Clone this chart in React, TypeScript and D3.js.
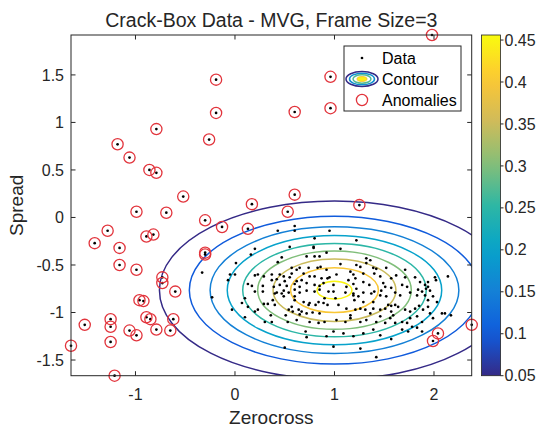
import * as d3 from 'd3';

// axis ticks
const xTicks = [-1, 0, 1, 2];
const yTicks = [-1.5, -1, -0.5, 0, 0.5, 1, 1.5];

// contour levels of the fitted MVG and its parameters
const contourLevels = [0.05, 0.1, 0.15, 0.2, 0.25, 0.3, 0.35, 0.4, 0.45];
const mvgMean = [1.0, -0.765];
const mvgSigma = [0.835, 0.445];
const mvgPeak = 0.46;
const colorRange = [0.05, 0.456];
const colorbarTicks = [0.05, 0.1, 0.15, 0.2, 0.25, 0.3, 0.35, 0.4, 0.45];

// parula colormap anchors
const parula = ['#352A87', '#0F5CDD', '#1481D6', '#06A4CA', '#2EB7A4', '#87BF77', '#D1BB59', '#FEC832', '#F9FB0E'];

// normal frames (zerocross, spread)
const dataPoints: [number, number][] = [
  [-0.33, -0.58], [-0.23, -0.84], [-0.03, -0.97], [0.0, -0.6], [0.01, -0.48], [-0.07, -0.66],
  [0.43, -0.14], [0.6, -0.09], [0.6, -0.14], [0.8, -0.22], [0.2, -0.33], [0.16, -0.39], [0.55, -0.31],
  [0.79, -0.31], [0.79, -0.32], [0.47, -0.42], [0.72, -0.41], [0.8, -0.41], [0.85, -0.41], [0.92, -0.37],
  [0.43, -0.47], [-0.05, -0.6], [0.2, -0.61], [0.23, -0.6], [0.29, -0.62], [0.37, -0.6], [0.45, -0.6],
  [0.49, -0.62], [0.57, -0.53], [0.62, -0.55], [0.65, -0.53], [0.74, -0.53], [0.83, -0.53], [0.86, -0.52],
  [0.92, -0.55], [0.57, -0.59], [0.55, -0.63], [0.69, -0.59], [0.75, -0.62], [0.8, -0.62], [0.37, -0.66],
  [0.42, -0.65], [0.5, -0.67], [0.62, -0.67], [0.67, -0.66], [0.87, -0.64], [0.93, -0.64], [0.13, -0.7],
  [0.17, -0.72], [0.28, -0.72], [0.39, -0.73], [0.45, -0.71], [0.52, -0.72], [0.6, -0.7], [0.65, -0.73],
  [0.72, -0.69], [0.8, -0.71], [0.85, -0.72], [0.89, -0.69], [0.2, -0.78], [0.28, -0.78], [0.42, -0.79],
  [0.49, -0.77], [0.54, -0.79], [0.6, -0.76], [0.65, -0.79], [0.72, -0.77], [0.8, -0.78], [0.85, -0.76],
  [0.94, -0.78],
  [0.95, -0.14], [1.22, -0.24], [1.06, -0.33], [1.32, -0.43], [1.36, -0.45], [1.06, -0.49], [1.22, -0.5],
  [1.26, -0.52], [1.32, -0.48], [1.39, -0.53], [1.42, -0.54], [1.52, -0.53], [1.71, -0.55], [1.02, -0.6],
  [1.16, -0.57], [1.19, -0.6], [1.29, -0.59], [1.4, -0.59], [0.95, -0.63], [1.14, -0.66], [1.21, -0.64],
  [1.29, -0.68], [1.46, -0.62], [1.57, -0.64], [1.62, -0.61], [1.71, -0.63], [1.81, -0.63], [1.86, -0.68],
  [1.94, -0.68], [2.01, -0.63], [2.02, -0.66], [2.14, -0.62], [0.99, -0.71], [1.12, -0.73], [1.19, -0.7],
  [1.22, -0.75], [1.35, -0.71], [1.49, -0.69], [1.51, -0.73], [1.57, -0.74], [1.68, -0.71], [1.73, -0.73],
  [1.84, -0.76], [1.91, -0.71], [1.92, -0.75], [1.94, -0.73], [1.96, -0.77], [0.99, -0.78], [1.11, -0.79],
  [1.19, -0.8], [1.29, -0.79], [1.4, -0.78], [1.47, -0.77], [1.61, -0.79], [1.76, -0.79], [1.88, -0.78],
  [0.07, -0.9], [0.1, -0.85], [0.13, -0.94], [0.1, -1.05], [0.2, -0.99], [0.23, -0.97], [0.29, -0.91],
  [0.33, -0.91], [0.36, -1.03], [0.3, -1.1], [0.37, -1.1], [0.38, -0.87], [0.4, -0.92], [0.4, -0.8],
  [0.47, -0.8], [0.49, -0.83], [0.51, -1.03], [0.54, -0.97], [0.57, -0.94], [0.58, -0.99], [0.6, -0.83],
  [0.6, -0.87], [0.64, -0.97], [0.65, -1.02], [0.67, -0.99], [0.69, -0.89], [0.72, -1.01], [0.74, -0.92],
  [0.75, -0.9], [0.78, -1.0], [0.81, -0.92], [0.84, -0.89], [0.85, -1.01], [0.89, -0.9], [0.9, -0.85],
  [0.93, -0.92], [0.62, -1.08], [0.53, -1.1], [0.75, -1.1], [0.84, -1.11], [0.9, -1.1], [0.71, -1.2],
  [0.72, -1.26], [0.92, -1.25], [0.5, -1.37],
  [1.01, -0.85], [1.04, -0.92], [1.19, -0.82], [1.2, -0.87], [1.24, -0.83], [1.29, -0.89], [1.39, -0.89],
  [1.37, -0.8], [1.46, -0.82], [1.52, -0.83], [1.66, -0.82], [1.83, -0.82], [1.91, -0.82], [1.94, -0.87],
  [1.99, -0.83], [2.03, -0.89], [2.11, -1.01], [2.17, -1.03], [1.12, -0.96], [1.16, -1.03], [1.21, -0.97],
  [1.26, -0.96], [1.31, -0.97], [1.36, -1.01], [1.39, -0.96], [1.46, -0.97], [1.51, -0.96], [1.54, -0.92],
  [1.57, -0.93], [1.61, -0.92], [1.64, -0.94], [1.57, -0.99], [1.59, -1.03], [1.56, -1.06], [1.46, -1.04],
  [1.71, -0.97], [1.76, -0.99], [1.81, -0.96], [1.85, -0.93], [1.89, -0.97], [1.94, -0.94], [1.96, -1.01],
  [1.99, -1.06], [1.76, -1.06], [1.83, -1.04], [1.88, -1.1], [1.02, -1.08], [1.11, -1.1], [1.16, -1.06],
  [1.26, -1.1], [1.32, -1.08], [1.42, -1.1], [1.51, -1.11], [1.61, -1.11], [1.68, -1.1], [1.73, -1.11],
  [1.78, -1.15], [1.83, -1.16], [1.88, -1.2], [0.99, -1.2], [1.09, -1.22], [1.19, -1.25], [1.29, -1.22],
  [1.39, -1.18], [1.46, -1.24], [1.57, -1.28], [1.68, -1.18], [1.74, -1.2], [1.26, -1.38], [1.42, -1.47],
  [2.08, -1.01], [0.99, -1.36],
];

// frames flagged as anomalies
const anomalyPoints: [number, number][] = [
  [-0.19, 1.45], [-0.19, 1.1], [-0.79, 0.93], [-1.18, 0.77], [-1.06, 0.63], [-0.86, 0.5], [-0.79, 0.47],
  [-0.26, 0.82], [-0.52, 0.22], [-0.99, 0.06], [-0.69, 0.05], [-0.3, -0.03], [-0.13, -0.1], [-1.28, -0.14],
  [-1.41, -0.27], [-1.16, -0.32], [-0.89, -0.2], [-0.82, -0.18], [-0.3, -0.37], [-0.3, -0.39], [-1.16, -0.5],
  [-0.99, -0.55], [-0.73, -0.63], [-0.73, -0.69], [-0.6, -0.78], [-0.96, -0.87], [-0.92, -0.88],
  [-1.25, -1.07], [-1.25, -1.15], [-1.51, -1.13], [-0.89, -1.05], [-0.85, -1.07], [-0.62, -1.07],
  [-1.06, -1.19], [-0.99, -1.24], [-0.79, -1.18], [-0.65, -1.19], [-1.25, -1.31], [-1.648, -1.35],
  [-1.21, -1.665], [0.96, 1.48], [0.96, 1.15], [0.6, 1.11], [0.6, 0.24], [0.17, 0.14], [0.53, 0.06],
  [1.25, 0.13], [0.13, -0.12], [1.98, 1.92], [2.379, -1.13], [1.99, -1.3], [2.04, -1.22],
];

const W = 540;
const H = 427;
const plot = { left: 71, right: 471.7, top: 35, bottom: 375.7 };
const cb = { left: 481.5, right: 500.5 };
const font = '"Liberation Sans", Arial, Helvetica, sans-serif';
const ink = '#262626';

export default function App() {
  const all = [...dataPoints, ...anomalyPoints];
  const x = d3.scaleLinear().domain(d3.extent(all, (d) => d[0]) as [number, number]).range([plot.left, plot.right]);
  const y = d3.scaleLinear().domain(d3.extent(all, (d) => d[1]) as [number, number]).range([plot.bottom, plot.top]);
  const parulaInterp = d3.piecewise(d3.interpolateRgb, parula);
  const color = d3.scaleSequential(parulaInterp).domain(colorRange);
  const cbY = d3.scaleLinear().domain(colorRange).range([plot.bottom, plot.top]);

  const ellipses = contourLevels.map((lv) => {
    const r = Math.sqrt(2 * Math.log(mvgPeak / lv));
    return {
      lv,
      cx: x(mvgMean[0]),
      cy: y(mvgMean[1]),
      rx: x(mvgMean[0] + mvgSigma[0] * r) - x(mvgMean[0]),
      ry: y(mvgMean[1]) - y(mvgMean[1] + mvgSigma[1] * r),
    };
  });

  const gradStops = d3.range(0, 1.0001, 0.05);
  const tickLen = 4.5;

  const legend = { x: 344, y: 46, w: 117, h: 65 };
  const iconX = 362;
  const textX = 382;
  const rows = [58, 79, 100];
  const iconRings = [
    { rx: 16, ry: 7.5, t: 0.0 },
    { rx: 12.5, ry: 5.8, t: 0.3 },
    { rx: 9, ry: 4.2, t: 0.55 },
  ];

  return (
    <svg
      width={W}
      height={H}
      style={{ position: 'absolute', left: 0, top: 0, background: '#fff' }}
      fontFamily={font}
    >
      <defs>
        <clipPath id="plotClip">
          <rect x={plot.left} y={plot.top} width={plot.right - plot.left} height={plot.bottom - plot.top} />
        </clipPath>
        <linearGradient id="cbGrad" x1="0" y1="1" x2="0" y2="0">
          {gradStops.map((t) => (
            <stop key={t} offset={t} stopColor={parulaInterp(t)} />
          ))}
        </linearGradient>
      </defs>

      <rect x={plot.left} y={plot.top} width={plot.right - plot.left} height={plot.bottom - plot.top} fill="#fff" />

      {/* contours */}
      <g clipPath="url(#plotClip)">
        {ellipses.map((e) => (
          <ellipse key={e.lv} cx={e.cx} cy={e.cy} rx={e.rx} ry={e.ry} fill="none" stroke={color(e.lv)} strokeWidth={1.5} />
        ))}
      </g>

      {/* data */}
      <g fill="#000">
        {all.map((d, i) => (
          <circle key={i} cx={x(d[0])} cy={y(d[1])} r={1.35} />
        ))}
      </g>
      <g fill="none" stroke="#e2343c" strokeWidth={1.3}>
        {anomalyPoints.map((d, i) => (
          <circle key={i} cx={x(d[0])} cy={y(d[1])} r={5.6} />
        ))}
      </g>

      {/* axes box and ticks */}
      <rect
        x={plot.left}
        y={plot.top}
        width={plot.right - plot.left}
        height={plot.bottom - plot.top}
        fill="none"
        stroke={ink}
        strokeWidth={1}
      />
      <g stroke={ink} strokeWidth={1}>
        {xTicks.map((t) => (
          <g key={t}>
            <line x1={x(t)} x2={x(t)} y1={plot.bottom} y2={plot.bottom - tickLen} />
            <line x1={x(t)} x2={x(t)} y1={plot.top} y2={plot.top + tickLen} />
          </g>
        ))}
        {yTicks.map((t) => (
          <g key={t}>
            <line x1={plot.left} x2={plot.left + tickLen} y1={y(t)} y2={y(t)} />
            <line x1={plot.right} x2={plot.right - tickLen} y1={y(t)} y2={y(t)} />
          </g>
        ))}
      </g>
      <g fill={ink} fontSize={16}>
        {xTicks.map((t) => (
          <text key={t} x={x(t)} y={plot.bottom + 24} textAnchor="middle">
            {t < 0 ? `-${Math.abs(t)}` : t}
          </text>
        ))}
        {yTicks.map((t) => (
          <text key={t} x={plot.left - 7} y={y(t)} dy="0.35em" textAnchor="end">
            {t < 0 ? `-${Math.abs(t)}` : t}
          </text>
        ))}
      </g>

      <text x={(plot.left + plot.right) / 2} y={424} textAnchor="middle" fontSize={19} fill={ink}>
        Zerocross
      </text>
      <text
        transform={`translate(23,${(plot.top + plot.bottom) / 2}) rotate(-90)`}
        textAnchor="middle"
        fontSize={19}
        fill={ink}
      >
        Spread
      </text>
      <text x={(plot.left + plot.right) / 2} y={27} textAnchor="middle" fontSize={19.5} fill={ink}>
        Crack-Box Data - MVG, Frame Size=3
      </text>

      {/* legend */}
      <rect x={legend.x} y={legend.y} width={legend.w} height={legend.h} fill="#fff" stroke={ink} strokeWidth={1} />
      <circle cx={iconX} cy={rows[0]} r={1.35} fill="#000" />
      {iconRings.map((r) => (
        <ellipse key={r.rx} cx={iconX} cy={rows[1]} rx={r.rx} ry={r.ry} fill="none" stroke={parulaInterp(r.t)} strokeWidth={1.5} />
      ))}
      <ellipse cx={iconX} cy={rows[1]} rx={5} ry={2.4} fill={parulaInterp(0.97)} stroke={parulaInterp(0.85)} strokeWidth={1} />
      <circle cx={iconX} cy={rows[2]} r={5.6} fill="none" stroke="#e2343c" strokeWidth={1.3} />
      <g fontSize={16} fill="#000">
        {['Data', 'Contour', 'Anomalies'].map((s, i) => (
          <text key={s} x={textX} y={rows[i]} dy="0.35em">
            {s}
          </text>
        ))}
      </g>

      {/* colorbar */}
      <rect x={cb.left} y={plot.top} width={cb.right - cb.left} height={plot.bottom - plot.top} fill="url(#cbGrad)" />
      <rect
        x={cb.left}
        y={plot.top}
        width={cb.right - cb.left}
        height={plot.bottom - plot.top}
        fill="none"
        stroke={ink}
        strokeWidth={0.8}
      />
      <g stroke={ink} strokeWidth={1}>
        {colorbarTicks.map((t) => (
          <line key={t} x1={cb.right} x2={cb.right + 3} y1={cbY(t)} y2={cbY(t)} />
        ))}
      </g>
      <g fill={ink} fontSize={16}>
        {colorbarTicks.map((t) => (
          <text key={t} x={cb.right + 4} y={cbY(t)} dy="0.35em">
            {t}
          </text>
        ))}
      </g>
    </svg>
  );
}
